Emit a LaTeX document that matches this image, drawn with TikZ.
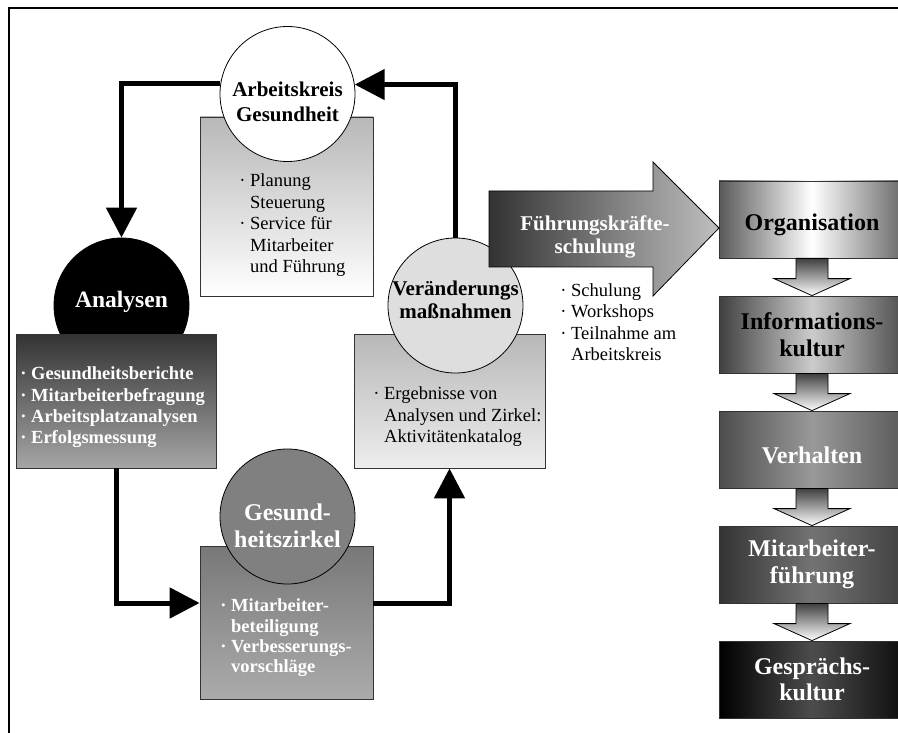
\documentclass[tikz,border=0pt]{standalone}
\usepackage{fontspec}
\setmainfont{Liberation Serif}
\usetikzlibrary{arrows.meta, positioning, calc}
\tikzset{
  every picture/.style={line width=0.8pt},
  ring/.style={circle, draw=black, fill=#1, minimum size=135pt, inner sep=0pt},
  ring/.default=white,
  panel/.style={draw=black!80, inner sep=0pt},
  flow/.style={-{Triangle[length=30pt, width=30pt]}, line width=5pt},
  title/.style={font=\fontsize{21}{24.5}\selectfont\bfseries, align=center, inner sep=0pt},
  list/.style={font=\fontsize{18.5}{21.5}\selectfont, align=left, anchor=north west, inner sep=0pt},
  stage/.style={draw=black!80, minimum width=186pt, minimum height=77pt, inner sep=0pt, align=center,
    font=\fontsize{24}{26.5}\selectfont\bfseries},
}
\newcommand{\lbul}{·~}
\newcommand{\lind}{\hphantom{·~}}

\begin{document}
\begin{tikzpicture}[x=1pt, y=-1pt,
  boldlist/.style={list, text=white, font=\fontsize{18.5}{21.3}\selectfont\bfseries},
  downarrow/.style={draw=black, top color=black!75, bottom color=white}]
  \useasboundingbox (0,0) rectangle (898,733);
  \draw[line width=2pt] (9,733) -- (9,8) -- (898,8);
  % cycle on the left
  \node[panel, minimum width=173pt, minimum height=179pt, top color=black!28, bottom color=white] (akbox) at (286.5,206.5) {};
  \node[ring] (ak) at (287.5,94) {};
  \node[ring=black] (an) at (121.5,305.5) {};
  \node[panel, minimum width=200pt, minimum height=134pt, top color=black!80, bottom color=black!35] (anbox) at (116,401) {};
  \node[panel, minimum width=191pt, minimum height=134pt, top color=black!28, bottom color=black!7] (vmbox) at (449.5,401) {};
  \node[ring=black!13] (vm) at (455.5,305.5) {};
  \node[panel, minimum width=173pt, minimum height=153pt, top color=black!53, bottom color=black!33] (gzbox) at (286.5,622.5) {};
  \node[ring=black!50] (gz) at (287.5,516.5) {};
  \node[title] (akti) at (287.5,102) {Arbeitskreis\\Gesundheit};
  \node[title, text=white, font=\fontsize{23.5}{26}\selectfont\bfseries] (anti) at (121.5,302) {Analysen};
  \node[title, font=\fontsize{21}{23.5}\selectfont\bfseries] (vmti) at (455.5,300) {Veränderungs\\maßnahmen};
  \node[title, text=white, font=\fontsize{24}{27}\selectfont\bfseries] (gzti) at (287.5,526) {Gesund-\\heitszirkel};
  \node[list] (akli) at (239,173.5) {\lbul Planung\\\lind Steuerung\\\lbul Service für\\\lind Mitarbeiter\\\lind und Führung};
  \node[boldlist] (anli) at (20,366.5) {\lbul Gesundheitsberichte\\\lbul Mitarbeiterbefragung\\\lbul Arbeitsplatzanalysen\\\lbul Erfolgsmessung};
  \node[list] (vmli) at (373,386.5) {\lbul Ergebnisse von\\\lind Analysen und Zirkel:\\\lind Aktivitätenkatalog};
  \node[boldlist, font=\fontsize{18.5}{20.4}\selectfont\bfseries] (gzli) at (220,598.5) {\lbul Mitarbeiter-\\\lind beteiligung\\\lbul Verbesserungs-\\\lind vorschläge};
  \draw[flow] (vm.north) |- (ak.8.5);
  \draw[flow] (ak.171.5) -| (an.north);
  \draw[flow] (anbox.south) |- ([yshift=19.5pt]gzbox.west);
  \draw[flow] ([yshift=19.5pt]gzbox.east) -| (vmbox.south);
  % column on the right
  \node[stage, text height=28pt, left color=black!65, right color=black!60, middle color=white] (org) at (812,219.5) {Organisation};
  \node[stage, left color=black!75, right color=black!70, middle color=black!20] (info) at (812,334.5) {Informations-\\kultur};
  \node[stage, text=white, text height=28pt, left color=black!70, right color=black!65, middle color=black!40] (verh) at (812,449.5) {Verhalten};
  \node[stage, text=white, left color=black!80, right color=black!75, middle color=black!55] (mafue) at (812,564.5) {Mitarbeiter-\\führung};
  \node[stage, text=white, left color=black, right color=black!95, middle color=black!70] (gespr) at (812,679.5) {Gesprächs-\\kultur};
  \foreach \a/\b in {org/info, info/verh, verh/mafue, mafue/gespr}
    \shade[downarrow] ($(\a.south)+(-16,0)$) -- ($(\a.south)+(16,0)$) -- ($(\b.north)+(16,-17)$) -- ($(\b.north)+(38,-17)$)
      -- (\b.north) -- ($(\b.north)+(-38,-17)$) -- ($(\b.north)+(-16,-17)$) -- cycle;
  \shade[draw=black, left color=black!80, right color=black!25] (489,191) -- (653,191) -- (653,162) -- (719,228)
    -- (653,296) -- (653,267) -- (489,267) -- cycle;
  \node[title, text=white, font=\fontsize{21}{23}\selectfont\bfseries] (fkti) at (595,236.5) {Führungskräfte-\\schulung};
  \node[list] (fkli) at (560,283) {\lbul Schulung\\\lbul Workshops\\\lbul Teilnahme am\\\lind Arbeitskreis};
\end{tikzpicture}
\end{document}
